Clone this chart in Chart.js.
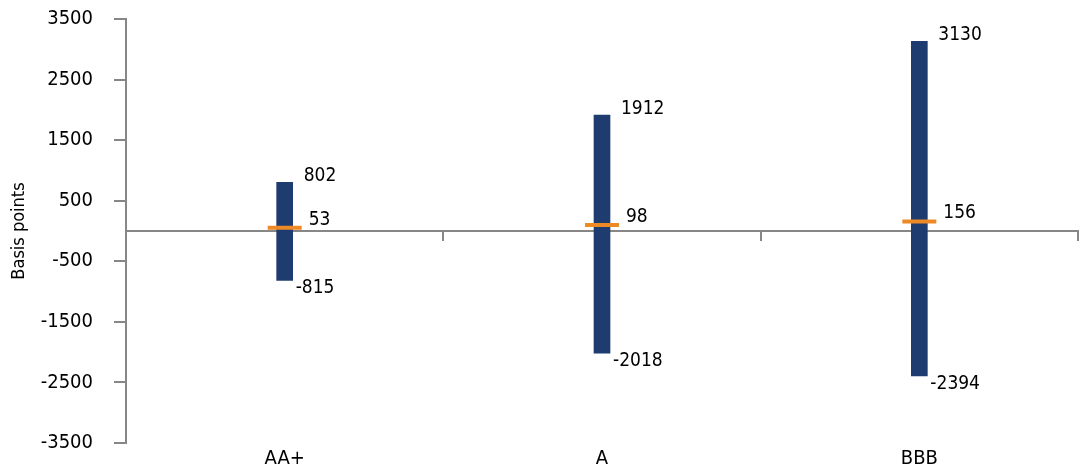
<!DOCTYPE html>
<html>
<head>
<meta charset="utf-8">
<script src="https://cdn.jsdelivr.net/npm/chart.js@4/dist/chart.umd.min.js"></script>
<style>
  html, body { margin: 0; padding: 0; background: #fff; }
  #wrap { width: 1091px; height: 466px; }
</style>
</head>
<body>
<div id="wrap"><canvas id="range-chart" width="1091" height="466"></canvas></div>
<script>
// chart values
const ratings = ['AA+', 'A', 'BBB'];
const lowValues = [-815, -2018, -2394];
const highValues = [802, 1912, 3130];
const medianValues = [53, 98, 156];
const yTicks = [3500, 2500, 1500, 500, -500, -1500, -2500, -3500];

const FONT = '"DejaVu Sans Condensed", "Noto Sans", sans-serif';
const AXIS_GREY = '#878787';

// no automatic label overflow padding, the layout padding decides the plot box
function noPad(scale) {
  scale.paddingTop = 0;
  scale.paddingBottom = 0;
  scale.paddingLeft = 0;
  scale.paddingRight = 0;
}

// draws the value labels next to each bar
const valueLabels = {
  id: 'valueLabels',
  afterDatasetsDraw(chart) {
    const ctx = chart.ctx;
    const bars = chart.getDatasetMeta(0).data;
    const meds = chart.getDatasetMeta(1).data;
    ctx.save();
    ctx.font = '19px ' + FONT;
    ctx.fillStyle = '#000';
    ctx.textAlign = 'left';
    ctx.textBaseline = 'middle';
    bars.forEach((bar, i) => {
      const half = bar.width / 2;
      const top = Math.min(bar.y, bar.base);
      const bottom = Math.max(bar.y, bar.base);
      ctx.fillText(String(highValues[i]), bar.x + half + 11, top - 6);
      ctx.fillText(String(lowValues[i]), bar.x + half + 3, bottom + 8);
    });
    meds.forEach((pt, i) => {
      ctx.fillText(String(medianValues[i]), pt.x + 24, pt.y - 8);
    });
    ctx.restore();
  }
};

const ctx = document.getElementById('range-chart');
new Chart(ctx, {
  data: {
    labels: ratings,
    datasets: [{
      type: 'bar',
      label: 'Range',
      data: ratings.map((r, i) => [lowValues[i], highValues[i]]),
      backgroundColor: '#1f3c70',
      borderWidth: 0,
      barThickness: 16,
      order: 1
    }, {
      type: 'line',
      label: 'Median',
      data: medianValues,
      showLine: false,
      pointStyle: 'line',
      pointRadius: 17,
      pointHoverRadius: 17,
      pointBorderWidth: 4,
      pointBorderColor: '#ee8a26',
      pointBackgroundColor: '#ee8a26',
      order: 0
    }]
  },
  options: {
    responsive: false,
    animation: false,
    layout: { autoPadding: false, padding: { top: 19, right: 13, left: 0, bottom: 0 } },
    plugins: {
      legend: { display: false },
      tooltip: { enabled: false }
    },
    scales: {
      x: {
        position: 'bottom',
        offset: true,
        grid: { display: false, drawTicks: false },
        border: { display: false },
        ticks: {
          padding: 4,
          color: '#000',
          font: { family: FONT, size: 20 }
        },
        afterFit(scale) { scale.height = 23; noPad(scale); }
      },
      x0: {
        type: 'category',
        position: { y: 0 },
        offset: true,
        grid: {
          offset: true,
          drawOnChartArea: false,
          drawTicks: true,
          tickLength: 9,
          color: AXIS_GREY,
          lineWidth: 2
        },
        border: { display: true, color: AXIS_GREY, width: 2 },
        ticks: { display: false },
        afterFit: noPad
      },
      y: {
        min: -3500,
        max: 3500,
        afterBuildTicks(scale) {
          scale.ticks = yTicks.map(v => ({ value: v }));
        },
        grid: {
          drawOnChartArea: false,
          drawTicks: true,
          tickLength: 12,
          color: AXIS_GREY,
          lineWidth: 2
        },
        border: { display: true, color: AXIS_GREY, width: 2 },
        ticks: {
          padding: 21,
          color: '#000',
          font: { family: FONT, size: 20 },
          callback: v => String(v)
        },
        title: {
          display: true,
          text: 'Basis points',
          color: '#000',
          padding: { top: 9, bottom: 0 },
          font: { family: FONT, size: 18 }
        },
        afterFit(scale) { scale.width = 126; noPad(scale); }
      }
    }
  },
  plugins: [valueLabels]
});
</script>
</body>
</html>
